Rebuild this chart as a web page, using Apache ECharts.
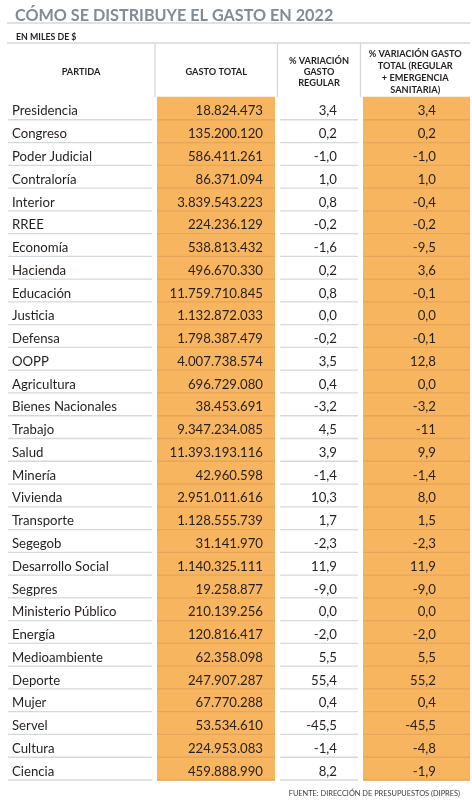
<!DOCTYPE html>
<html><head><meta charset="utf-8">
<script src="https://cdn.jsdelivr.net/npm/echarts@6/dist/echarts.min.js"></script>
<style>html,body{margin:0;padding:0;background:#fff}#c{width:472px;height:800px}</style>
</head><body><div id="c"></div>
<script>
// ---- data ----
const titleText = 'CÓMO SE DISTRIBUYE EL GASTO EN 2022';
const unitText = 'EN MILES DE $';
const sourceText = 'FUENTE: DIRECCIÓN DE PRESUPUESTOS (DIPRES)';
const headers = ['PARTIDA', 'GASTO TOTAL', '% VARIACIÓN\nGASTO\nREGULAR', '% VARIACIÓN GASTO\nTOTAL (REGULAR\n+ EMERGENCIA\nSANITARIA)'];
const categories = ['Presidencia','Congreso','Poder Judicial','Contraloría','Interior','RREE','Economía','Hacienda','Educación','Justicia','Defensa','OOPP','Agricultura','Bienes Nacionales','Trabajo','Salud','Minería','Vivienda','Transporte','Segegob','Desarrollo Social','Segpres','Ministerio Público','Energía','Medioambiente','Deporte','Mujer','Servel','Cultura','Ciencia'];
const gastoTotal = [18824473,135200120,586411261,86371094,3839543223,224236129,538813432,496670330,11759710845,1132872033,1798387479,4007738574,696729080,38453691,9347234085,11393193116,42960598,2951011616,1128555739,31141970,1140325111,19258877,210139256,120816417,62358098,247907287,67770288,53534610,224953083,459888990];
const varRegular = [3.4,0.2,-1.0,1.0,0.8,-0.2,-1.6,0.2,0.8,0.0,-0.2,3.5,0.4,-3.2,4.5,3.9,-1.4,10.3,1.7,-2.3,11.9,-9.0,0.0,-2.0,5.5,55.4,0.4,-45.5,-1.4,8.2];
const varTotal = [3.4,0.2,-1.0,1.0,-0.4,-0.2,-9.5,3.6,-0.1,0.0,-0.1,12.8,0.0,-3.2,-11,9.9,-1.4,8.0,1.5,-2.3,11.9,-9.0,0.0,-2.0,5.5,55.2,0.4,-45.5,-4.8,-1.9];

// ---- formatting ----
const fmtInt = n => String(n).replace(/\B(?=(\d{3})+(?!\d))/g, '.');
const fmtPct = v => (Number.isInteger(v) && Math.abs(v) >= 10) ? String(v) : v.toFixed(1).replace('.', ',');

// ---- layout / style ----
const FONT = 'Lato, "Open Sans", sans-serif';
const ORANGE = '#f7b55f';
const ORANGE_LINE = '#e6a65a';
const GRAY_LINE = '#d3d8dd';
const TXT = '#231f20';
const GRID = {left: 7, right: 2, top: 97, bottom: 20};
const XMAX = 463;
const COLS = [
  {edge: [0, 148], line: [1, 145], textLeft: 5},
  {edge: [148, 270.5], fill: [150, 268], textRight: 256},
  {edge: [270.5, 353.5], line: [273, 351], textRight: 330},
  {edge: [353.5, 463], fill: [356, 463], textRight: 429}
];
const colTexts = [categories, gastoTotal.map(fmtInt), varRegular.map(fmtPct), varTotal.map(fmtPct)];

function cellSeries(ci) {
  const col = COLS[ci], texts = colTexts[ci];
  return {
    type: 'custom', coordinateSystem: 'cartesian2d', silent: true, clip: false,
    data: categories.map((c, i) => [col.edge[0], i]),
    encode: {x: 0, y: 1},
    renderItem(params, api) {
      const row = api.value(1);
      const h = api.size([0, 1])[1];
      const yc = api.coord([0, row])[1];
      const top = yc - h / 2, bot = yc + h / 2;
      const ch = [];
      if (col.fill) {
        const a = api.coord([col.fill[0], row])[0], b = api.coord([col.fill[1], row])[0];
        ch.push({type: 'rect', shape: {x: a, y: top - 0.3, width: b - a, height: h + 0.6}, style: {fill: ORANGE}});
        ch.push({type: 'line', shape: {x1: a, y1: bot, x2: b, y2: bot}, style: {stroke: ORANGE_LINE, lineWidth: 1.3}, z2: 5});
      } else {
        const a = api.coord([col.line[0], row])[0], b = api.coord([col.line[1], row])[0];
        ch.push({type: 'line', shape: {x1: a, y1: bot, x2: b, y2: bot}, style: {stroke: GRAY_LINE, lineWidth: 1.3}});
      }
      const left = col.textLeft != null;
      const xt = api.coord([left ? col.textLeft : col.textRight, row])[0];
      const al = left ? 'left' : 'right';
      ch.push({type: 'text', x: xt, y: yc + 2.8, z2: 10,
        style: {text: texts[row], fill: TXT, font: '13.2px ' + FONT,
          align: al, verticalAlign: 'middle', textAlign: al, textVerticalAlign: 'middle'}});
      return {type: 'group', children: ch};
    }
  };
}

const chart = echarts.init(document.getElementById('c'), null, {renderer: 'canvas'});

function px(v) { return GRID.left + v; }
const headerY = 72;
const graphics = [
  {type: 'line', shape: {x1: 7, y1: 23, x2: 470, y2: 23}, style: {stroke: GRAY_LINE, lineWidth: 1.5}},
  {type: 'line', shape: {x1: 7, y1: 43, x2: 470, y2: 43}, style: {stroke: GRAY_LINE, lineWidth: 1.5}},
];
[COLS[1].edge[0], COLS[2].edge[0], COLS[3].edge[0]].forEach(e => {
  graphics.push({type: 'line', shape: {x1: px(e), y1: 43, x2: px(e), y2: 97}, style: {stroke: GRAY_LINE, lineWidth: 1.3}});
});
headers.forEach((h, i) => {
  const cx = px((COLS[i].edge[0] + COLS[i].edge[1]) / 2);
  graphics.push({type: 'text', x: cx, y: headerY,
    style: {text: h, fill: TXT, font: 'bold 9.2px ' + FONT, lineHeight: i === 3 ? 11.8 : 11.2,
      align: 'center', verticalAlign: 'middle', textAlign: 'center', textVerticalAlign: 'middle'}});
});

chart.setOption({
  animation: false,
  title: [
    {text: titleText, left: 10, top: 3, textStyle: {fontFamily: FONT, fontSize: 16.2, fontWeight: 'bold', color: '#7f8b95'}},
    {text: unitText, left: 11, top: 28, textStyle: {fontFamily: FONT, fontSize: 8.8, fontWeight: 'bold', color: TXT}},
    {text: sourceText, right: 7, top: 785, textStyle: {fontFamily: FONT, fontSize: 7.4, fontWeight: 'normal', color: '#3a3a3a'}}
  ],
  grid: {left: GRID.left, right: GRID.right, top: GRID.top, bottom: GRID.bottom, containLabel: false},
  xAxis: {type: 'value', min: 0, max: XMAX, show: false},
  yAxis: {type: 'category', data: categories, inverse: true, show: false},
  graphic: {elements: graphics},
  series: [cellSeries(0), cellSeries(1), cellSeries(2), cellSeries(3)]
});
</script>
</body></html>
